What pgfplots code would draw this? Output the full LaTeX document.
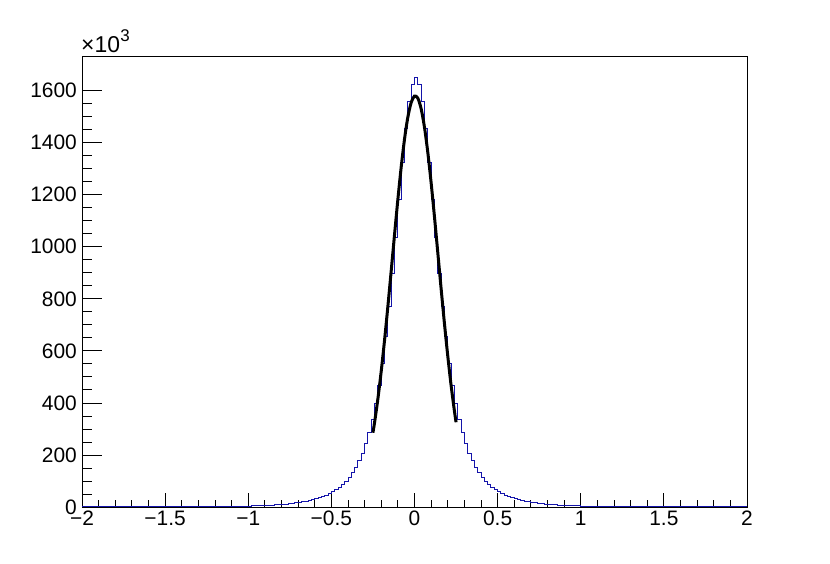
\documentclass[border=0pt]{standalone}
\usepackage{fontspec}
\setmainfont{Liberation Sans}
\usepackage{pgfplots}
\pgfplotsset{compat=1.18}
\definecolor{histblue}{RGB}{20,20,170}

\begin{document}
\begin{tikzpicture}
\path[use as bounding box] (0,0) rectangle (830bp,564bp);
\begin{axis}[
  at={(82bp,57bp)}, anchor=south west,
  width=665bp, height=451bp, scale only axis,
  xmin=-2, xmax=2, ymin=0, ymax=1733,
  axis line style={line width=0.8bp},
  tick align=inside,
  xtick pos=left, ytick pos=left,
  xtick={-2,-1.5,-1,-0.5,0,0.5,1,1.5,2},
  xticklabels={−2,−1.5,−1,−0.5,0,0.5,1,1.5,2},
  minor x tick num=4,
  ytick={0,200,400,600,800,1000,1200,1400,1600},
  yticklabels={0,200,400,600,800,1000,1200,1400,1600},
  minor y tick num=3,
  xtick style={/pgfplots/major tick length=13.5bp, /pgfplots/minor tick length=6.75bp, line width=0.8bp, black},
  ytick style={/pgfplots/major tick length=20bp, /pgfplots/minor tick length=10bp, line width=0.8bp, black},
  xticklabel style={font=\fontsize{21}{25}\selectfont, anchor=north, inner sep=0pt, yshift=-4bp},
  yticklabel style={font=\fontsize{21}{25}\selectfont, anchor=east, inner sep=0pt, xshift=-5bp},
]
% histogram, bins of 0.02 (left edge, content in 10^3)
\addplot[const plot, histblue, line width=1bp] coordinates {
  (-2.00,0.16)(-1.98,0.17)(-1.96,0.18)(-1.94,0.18)(-1.92,0.19)(-1.90,0.2)(-1.88,0.21)(-1.86,0.22)(-1.84,0.23)(-1.82,0.24)
  (-1.80,0.25)(-1.78,0.26)(-1.76,0.27)(-1.74,0.28)(-1.72,0.3)(-1.70,0.31)(-1.68,0.33)(-1.66,0.34)(-1.64,0.36)(-1.62,0.38)
  (-1.60,0.4)(-1.58,0.42)(-1.56,0.45)(-1.54,0.47)(-1.52,0.5)(-1.50,0.53)(-1.48,0.56)(-1.46,0.59)(-1.44,0.63)(-1.42,0.67)
  (-1.40,0.71)(-1.38,0.76)(-1.36,0.81)(-1.34,0.87)(-1.32,0.93)(-1.30,1.0)(-1.28,1.07)(-1.26,1.15)(-1.24,1.25)(-1.22,1.35)
  (-1.20,1.45)(-1.18,1.55)(-1.16,1.7)(-1.14,1.85)(-1.12,2.0)(-1.10,2.2)(-1.08,2.4)(-1.06,2.6)(-1.04,2.9)(-1.02,3.2)
  (-1.00,3.5)(-0.98,3.9)(-0.96,4.3)(-0.94,4.8)(-0.92,5.3)(-0.90,5.9)(-0.88,6.6)(-0.86,7.3)(-0.84,8.1)(-0.82,9)
  (-0.80,10)(-0.78,11.2)(-0.76,12.5)(-0.74,14)(-0.72,15.5)(-0.70,17.5)(-0.68,19.5)(-0.66,22)(-0.64,25)(-0.62,28)
  (-0.60,31)(-0.58,35)(-0.56,40)(-0.54,45)(-0.52,51)(-0.50,58)(-0.48,66)(-0.46,75)(-0.44,86)(-0.42,98)
  (-0.40,114)(-0.38,131)(-0.36,152)(-0.34,180)(-0.32,207)(-0.30,244)(-0.28,285)(-0.26,338)(-0.24,398)(-0.22,468)
  (-0.20,551)(-0.18,654)(-0.16,769)(-0.14,898)(-0.12,1035)(-0.10,1180)(-0.08,1325)(-0.06,1455)(-0.04,1560)(-0.02,1622)
  (0.00,1650)(0.02,1622)(0.04,1560)(0.06,1455)(0.08,1325)(0.10,1180)(0.12,1035)(0.14,898)(0.16,769)(0.18,654)
  (0.20,551)(0.22,468)(0.24,398)(0.26,338)(0.28,285)(0.30,244)(0.32,207)(0.34,180)(0.36,152)(0.38,131)
  (0.40,114)(0.42,98)(0.44,86)(0.46,75)(0.48,66)(0.50,58)(0.52,51)(0.54,45)(0.56,40)(0.58,35)
  (0.60,31)(0.62,28)(0.64,25)(0.66,22)(0.68,19.5)(0.70,17.5)(0.72,15.5)(0.74,14)(0.76,12.5)(0.78,11.2)
  (0.80,10)(0.82,9)(0.84,8.1)(0.86,7.3)(0.88,6.6)(0.90,5.9)(0.92,5.3)(0.94,4.8)(0.96,4.3)(0.98,3.9)
  (1.00,3.5)(1.02,3.2)(1.04,2.9)(1.06,2.6)(1.08,2.4)(1.10,2.2)(1.12,2.0)(1.14,1.85)(1.16,1.7)(1.18,1.55)
  (1.20,1.45)(1.22,1.35)(1.24,1.25)(1.26,1.15)(1.28,1.07)(1.30,1.0)(1.32,0.93)(1.34,0.87)(1.36,0.81)(1.38,0.76)
  (1.40,0.71)(1.42,0.67)(1.44,0.63)(1.46,0.59)(1.48,0.56)(1.50,0.53)(1.52,0.5)(1.54,0.47)(1.56,0.45)(1.58,0.42)
  (1.60,0.4)(1.62,0.38)(1.64,0.36)(1.66,0.34)(1.68,0.33)(1.70,0.31)(1.72,0.3)(1.74,0.28)(1.76,0.27)(1.78,0.26)
  (1.80,0.25)(1.82,0.24)(1.84,0.23)(1.86,0.22)(1.88,0.21)(1.90,0.2)(1.92,0.19)(1.94,0.18)(1.96,0.18)(1.98,0.17)
  (2.00,0.17)
};
% gaussian fit in [-0.25,0.25]
\addplot[smooth, black, line width=3bp] coordinates {
  (-0.25,285.5)(-0.24,325.6)(-0.22,417)(-0.20,522.9)(-0.18,642)(-0.16,771.8)(-0.14,908.5)
  (-0.12,1047)(-0.10,1182)(-0.08,1306.5)(-0.06,1413.8)(-0.04,1498)(-0.02,1554)(0.00,1579)
  (0.02,1570.7)(0.04,1530)(0.06,1459)(0.08,1362.6)(0.10,1246)(0.12,1115.6)(0.14,978)
  (0.16,839.6)(0.18,705.8)(0.20,581)(0.22,468)(0.24,369.4)(0.25,325.6)
};
\end{axis}
\node[anchor=base west, inner sep=0pt, font=\fontsize{23}{27}\selectfont] (mult) at (81bp,511bp) {×10};
\node[anchor=base west, inner sep=0pt, font=\fontsize{17}{20}\selectfont] at ([yshift=11bp]mult.base east) {3};
\end{tikzpicture}
\end{document}
